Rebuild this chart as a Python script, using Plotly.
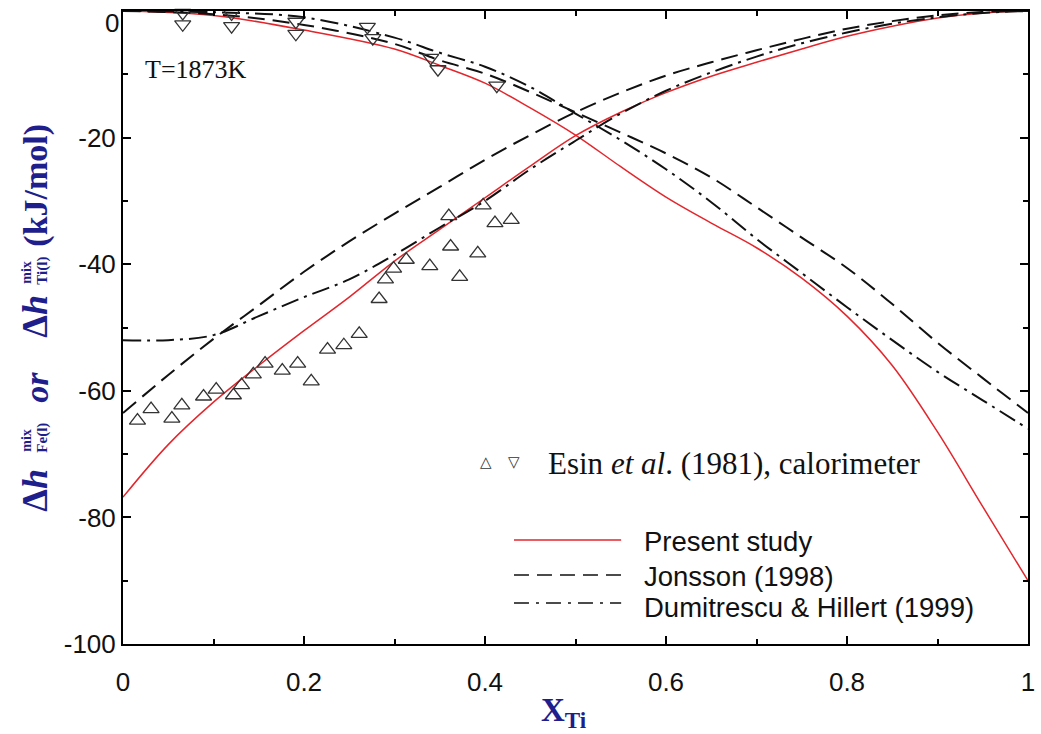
import plotly.graph_objects as go

# ---------------- data ----------------
x_fe = [0, 0.1, 0.2, 0.3, 0.35, 0.4, 0.45, 0.5, 0.55, 0.6, 0.65, 0.7, 0.75, 0.8, 0.85, 0.9, 0.95, 1.0]
present_fe = [0, -0.7, -3.0, -6.0, -8.6, -11.4, -15.3, -19.6, -24.6, -29.4, -33.5, -37.4, -42.2, -48.2, -56.0, -66.5, -78.3, -90.0]
jonsson_fe = [0, -0.5, -2.2, -5.2, -7.8, -9.9, -12.8, -16.0, -19.2, -22.5, -26.3, -31.0, -35.8, -40.6, -46.3, -52.4, -58.0, -63.5]
dumit_fe = [0, -0.2, -1.0, -4.2, -6.6, -8.8, -12.0, -16.2, -20.4, -25.0, -30.2, -36.0, -41.4, -46.8, -52.0, -57.0, -61.5, -66.0]

x_ti = [0, 0.05, 0.1, 0.15, 0.2, 0.25, 0.3, 0.35, 0.4, 0.45, 0.5, 0.55, 0.6, 0.65, 0.7, 0.75, 0.8, 0.85, 0.9, 0.95, 1.0]
present_ti = [-76.8, -68.5, -61.8, -56.0, -50.5, -45.2, -39.5, -34.5, -29.5, -24.5, -19.7, -16.0, -12.9, -10.3, -8.1, -6.0, -4.0, -2.4, -1.1, -0.3, 0]
jonsson_ti = [-63.5, -57.5, -51.8, -46.5, -41.2, -36.4, -32.0, -27.8, -23.5, -19.6, -16.0, -12.9, -10.2, -8.1, -6.2, -4.4, -2.8, -1.6, -0.7, -0.15, 0]
dumit_ti = [-52.0, -52.0, -51.2, -48.2, -45.2, -42.4, -38.5, -34.2, -30.0, -25.0, -20.5, -16.2, -12.6, -9.7, -7.2, -5.1, -3.4, -2.0, -1.0, -0.3, 0]

esin_ti_x = [0.016, 0.031, 0.054, 0.065, 0.089, 0.103, 0.122, 0.131, 0.144, 0.157, 0.176, 0.193, 0.208,
             0.226, 0.244, 0.261, 0.283, 0.290, 0.299, 0.313, 0.339, 0.362, 0.360, 0.372, 0.392, 0.398, 0.411, 0.429]
esin_ti_y = [-64.7, -62.9, -64.4, -62.3, -60.9, -59.8, -60.7, -59.1, -57.4, -55.7, -56.8, -55.7, -58.5,
             -53.5, -52.8, -51.0, -45.5, -42.4, -40.7, -39.3, -40.3, -37.2, -32.4, -42.0, -38.3, -30.7, -33.5, -33.0]

esin_fe_x = [0.066, 0.066, 0.120, 0.120, 0.191, 0.191, 0.270, 0.276, 0.340, 0.348, 0.413]
esin_fe_y = [-0.3, -2.1, -0.4, -2.4, -1.7, -3.6, -2.5, -4.3, -7.4, -9.2, -11.8]

x_ticks = [0, 0.2, 0.4, 0.6, 0.8, 1]
y_ticks = [-100, -80, -60, -40, -20, 0]
y_ticktext = ["-100", "-80", "-60", "-40", "-20", ""]

# ---------------- styles ----------------
RED = "#e3262c"
BLK = "#111111"
BLUE = "#1e1e8c"
DASH = "17px,8px"
DASHDOT = "18px,6px,3px,6px"
SANS = "Liberation Sans, Arial"
SERIF = "Liberation Serif, Times New Roman"

W, H = 1041, 734
L, R, T, B = 123, 6, 11, 90
PW, PH = W - L - R, H - T - B


def px(xp):
    return (xp - L) / PW


def py(yp):
    return (H - B - yp) / PH


fig = go.Figure()

for xs, ys in [(x_fe, present_fe), (x_ti, present_ti)]:
    fig.add_trace(go.Scatter(x=xs, y=ys, mode="lines", line=dict(color=RED, width=1.5, shape="spline"),
                             showlegend=False, hoverinfo="skip"))
for xs, ys in [(x_fe, jonsson_fe), (x_ti, jonsson_ti)]:
    fig.add_trace(go.Scatter(x=xs, y=ys, mode="lines", line=dict(color=BLK, width=2, dash=DASH, shape="spline"),
                             showlegend=False, hoverinfo="skip"))
for xs, ys in [(x_fe, dumit_fe), (x_ti, dumit_ti)]:
    fig.add_trace(go.Scatter(x=xs, y=ys, mode="lines", line=dict(color=BLK, width=2, dash=DASHDOT, shape="spline"),
                             showlegend=False, hoverinfo="skip"))

fig.add_trace(go.Scatter(x=esin_ti_x, y=esin_ti_y, mode="markers",
                         marker=dict(symbol="triangle-up-open", size=14, color="#333333", line=dict(width=1.3)),
                         showlegend=False, cliponaxis=False))
fig.add_trace(go.Scatter(x=esin_fe_x, y=esin_fe_y, mode="markers",
                         marker=dict(symbol="triangle-down-open", size=14, color="#333333", line=dict(width=1.3)),
                         showlegend=False, cliponaxis=False))

axis_common = dict(showline=True, linecolor="black", linewidth=2, mirror="allticks",
                   ticks="inside", ticklen=8, tickwidth=1.5, tickcolor="black",
                   showgrid=False, zeroline=False,
                   tickfont=dict(family=SANS, size=26, color="#111"))

fig.update_xaxes(range=[0, 1], tickvals=x_ticks, ticklabelstandoff=14,
                 minor=dict(ticks="inside", ticklen=5, tickwidth=1.5, tickcolor="black", dtick=0.1, showgrid=False),
                 **axis_common)
fig.update_yaxes(range=[-100, 0], tickvals=y_ticks, ticktext=y_ticktext, ticklabelstandoff=0,
                 minor=dict(ticks="inside", ticklen=5, tickwidth=1.5, tickcolor="black", dtick=10, showgrid=False),
                 **axis_common)

ann = []
# "0" y tick label placed lower as in reference
ann.append(dict(x=px(121), y=py(23), xref="paper", yref="paper", text="0", showarrow=False,
                xanchor="right", yanchor="middle", font=dict(family=SANS, size=26, color="#111")))
# T label
ann.append(dict(x=px(143), y=py(69), xref="paper", yref="paper", text="T=1873K", showarrow=False,
                xanchor="left", yanchor="middle", font=dict(family=SERIF, size=26, color="#111")))
# x title
ann.append(dict(x=px(567), y=py(713), xref="paper", yref="paper", text="<b>X<sub>Ti</sub></b>", showarrow=False,
                xanchor="center", yanchor="middle", font=dict(family=SERIF, size=33, color=BLUE)))
# y title pieces (rotated)
ypieces = [
    ("<b>Δ<i>h</i></b>", 36, 34, 490),
    ("<b>mix</b>", 14, 25, 440),
    ("<b>Fe(l)</b>", 15, 41, 438),
    ("<b><i>or</i></b>", 34, 35, 387),
    ("<b>Δ<i>h</i></b>", 36, 34, 316),
    ("<b>mix</b>", 14, 25, 272),
    ("<b>Ti(l)</b>", 15, 41, 271),
    ("<b>(kJ/mol)</b>", 34, 35, 185),
]
for txt, sz, cx, cy in ypieces:
    ann.append(dict(x=px(cx), y=py(cy), xref="paper", yref="paper", text=txt, showarrow=False, textangle=-90,
                    xanchor="center", yanchor="middle", font=dict(family=SERIF, size=sz, color=BLUE)))

# legend
ann.append(dict(x=px(489), y=py(462), xref="paper", yref="paper", text="△", showarrow=False,
                xanchor="center", yanchor="middle", font=dict(family="DejaVu Sans", size=15, color="#333")))
ann.append(dict(x=px(517), y=py(462), xref="paper", yref="paper", text="▽", showarrow=False,
                xanchor="center", yanchor="middle", font=dict(family="DejaVu Sans", size=15, color="#333")))
ann.append(dict(x=px(549), y=py(464), xref="paper", yref="paper",
                text="Esin <i>et al</i>. (1981), calorimeter", showarrow=False,
                xanchor="left", yanchor="middle", font=dict(family=SERIF, size=31, color="#111")))
leg = [("Present study", 541), ("Jonsson (1998)", 576), ("Dumitrescu & Hillert (1999)", 607)]
for txt, yy in leg:
    ann.append(dict(x=px(646), y=py(yy), xref="paper", yref="paper", text=txt, showarrow=False,
                    xanchor="left", yanchor="middle", font=dict(family=SANS, size=27.5, color="#111")))

shapes = [
    dict(type="line", xref="paper", yref="paper", x0=px(517), x1=px(625), y0=py(540), y1=py(540),
         line=dict(color=RED, width=1.5)),
    dict(type="line", xref="paper", yref="paper", x0=px(517), x1=px(625), y0=py(575), y1=py(575),
         line=dict(color=BLK, width=1.5, dash="15px,8px")),
    dict(type="line", xref="paper", yref="paper", x0=px(517), x1=px(625), y0=py(603), y1=py(603),
         line=dict(color=BLK, width=1.5, dash="15px,7px,3px,7px")),
]

fig.update_layout(width=W, height=H, margin=dict(l=L, r=R, t=T, b=B),
                  paper_bgcolor="white", plot_bgcolor="white",
                  annotations=ann, shapes=shapes, showlegend=False)

fig.write_html("out.html")
